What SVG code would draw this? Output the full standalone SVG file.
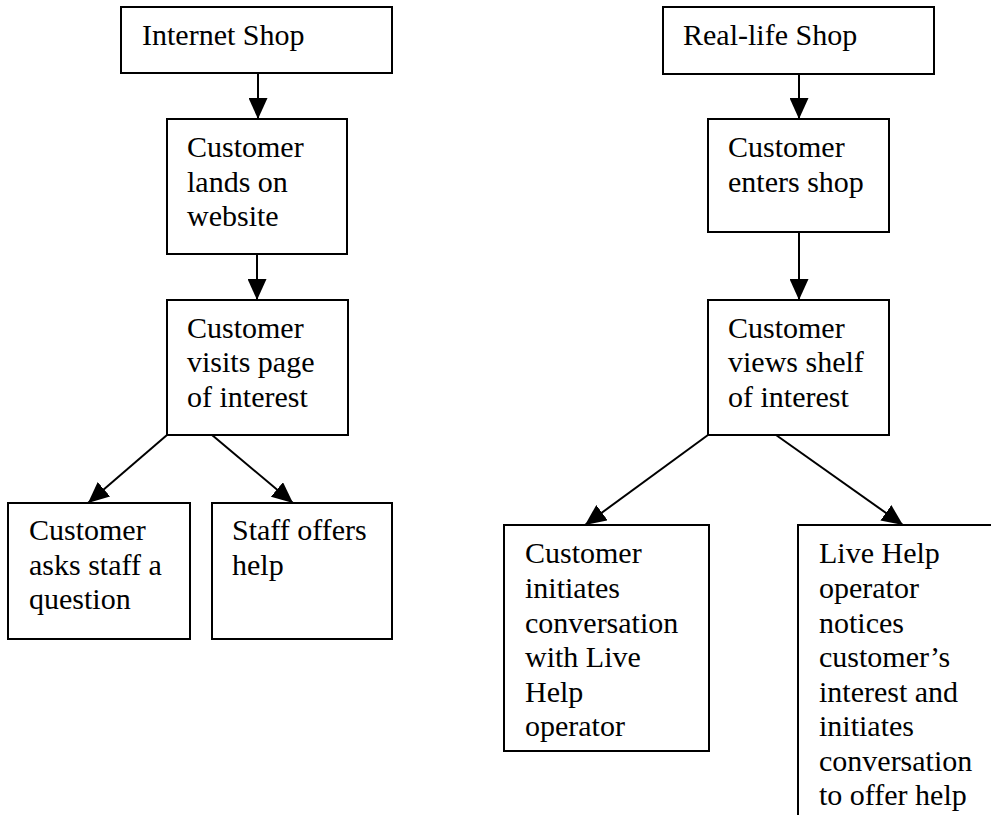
<svg xmlns="http://www.w3.org/2000/svg" width="991" height="815" viewBox="0 0 991 815">
<style>
.box{fill:#fff;stroke:#000;stroke-width:2}
.t{font-family:"Liberation Serif","Times New Roman",serif;font-size:30px;fill:#000}
.c{stroke:#000;stroke-width:2;fill:none}
</style>
<defs>
<marker id="ah" markerUnits="userSpaceOnUse" markerWidth="21" markerHeight="19" refX="21" refY="9.5" orient="auto" viewBox="0 0 21 19">
<path d="M0,0 L21,9.5 L0,19 z" fill="#000"/>
</marker>
</defs>
<rect width="991" height="815" fill="#fff"/>
<g id="internet-shop"><rect class="box" x="121" y="7" width="271" height="66"/><text class="t" x="142" y="45">Internet Shop</text></g>
<g id="lands"><rect class="box" x="167" y="119" width="180" height="135"/><text class="t" x="187" y="157">Customer</text><text class="t" x="187" y="192">lands on</text><text class="t" x="187" y="226">website</text></g>
<g id="visits"><rect class="box" x="167" y="300" width="181" height="135"/><text class="t" x="187" y="338">Customer</text><text class="t" x="187" y="372">visits page</text><text class="t" x="187" y="407">of interest</text></g>
<g id="asks"><rect class="box" x="8" y="503" width="182" height="136"/><text class="t" x="29" y="540">Customer</text><text class="t" x="29" y="575">asks staff a</text><text class="t" x="29" y="609">question</text></g>
<g id="staff-offers"><rect class="box" x="212" y="503" width="180" height="136"/><text class="t" x="232" y="540">Staff offers</text><text class="t" x="232" y="575">help</text></g>
<g id="real-shop"><rect class="box" x="663" y="7" width="271" height="67"/><text class="t" x="683" y="45">Real-life Shop</text></g>
<g id="enters"><rect class="box" x="708" y="119" width="181" height="113"/><text class="t" x="728" y="157">Customer</text><text class="t" x="728" y="192">enters shop</text></g>
<g id="views"><rect class="box" x="708" y="300" width="181" height="135"/><text class="t" x="728" y="338">Customer</text><text class="t" x="728" y="372">views shelf</text><text class="t" x="728" y="407">of interest</text></g>
<g id="initiates"><rect class="box" x="504" y="525" width="205" height="226"/><text class="t" x="525" y="563">Customer</text><text class="t" x="525" y="598">initiates</text><text class="t" x="525" y="633">conversation</text><text class="t" x="525" y="667">with Live</text><text class="t" x="525" y="702">Help</text><text class="t" x="525" y="736">operator</text></g>
<g id="notices"><rect class="box" x="798" y="525" width="230" height="320"/><text class="t" x="819" y="563">Live Help</text><text class="t" x="819" y="598">operator</text><text class="t" x="819" y="633">notices</text><text class="t" x="819" y="667">customer’s</text><text class="t" x="819" y="702">interest and</text><text class="t" x="819" y="736">initiates</text><text class="t" x="819" y="771">conversation</text><text class="t" x="819" y="805">to offer help</text></g>
<g id="connectors">
<line class="c" x1="258" y1="73" x2="258" y2="119" marker-end="url(#ah)"/>
<line class="c" x1="257" y1="254" x2="257" y2="300" marker-end="url(#ah)"/>
<line class="c" x1="167" y1="435" x2="88" y2="503" marker-end="url(#ah)"/>
<line class="c" x1="212" y1="435" x2="293" y2="503" marker-end="url(#ah)"/>
<line class="c" x1="799" y1="74" x2="799" y2="119" marker-end="url(#ah)"/>
<line class="c" x1="799" y1="232" x2="799" y2="300" marker-end="url(#ah)"/>
<line class="c" x1="708" y1="435" x2="585" y2="525" marker-end="url(#ah)"/>
<line class="c" x1="776" y1="435" x2="903" y2="525" marker-end="url(#ah)"/>
</g>
</svg>
